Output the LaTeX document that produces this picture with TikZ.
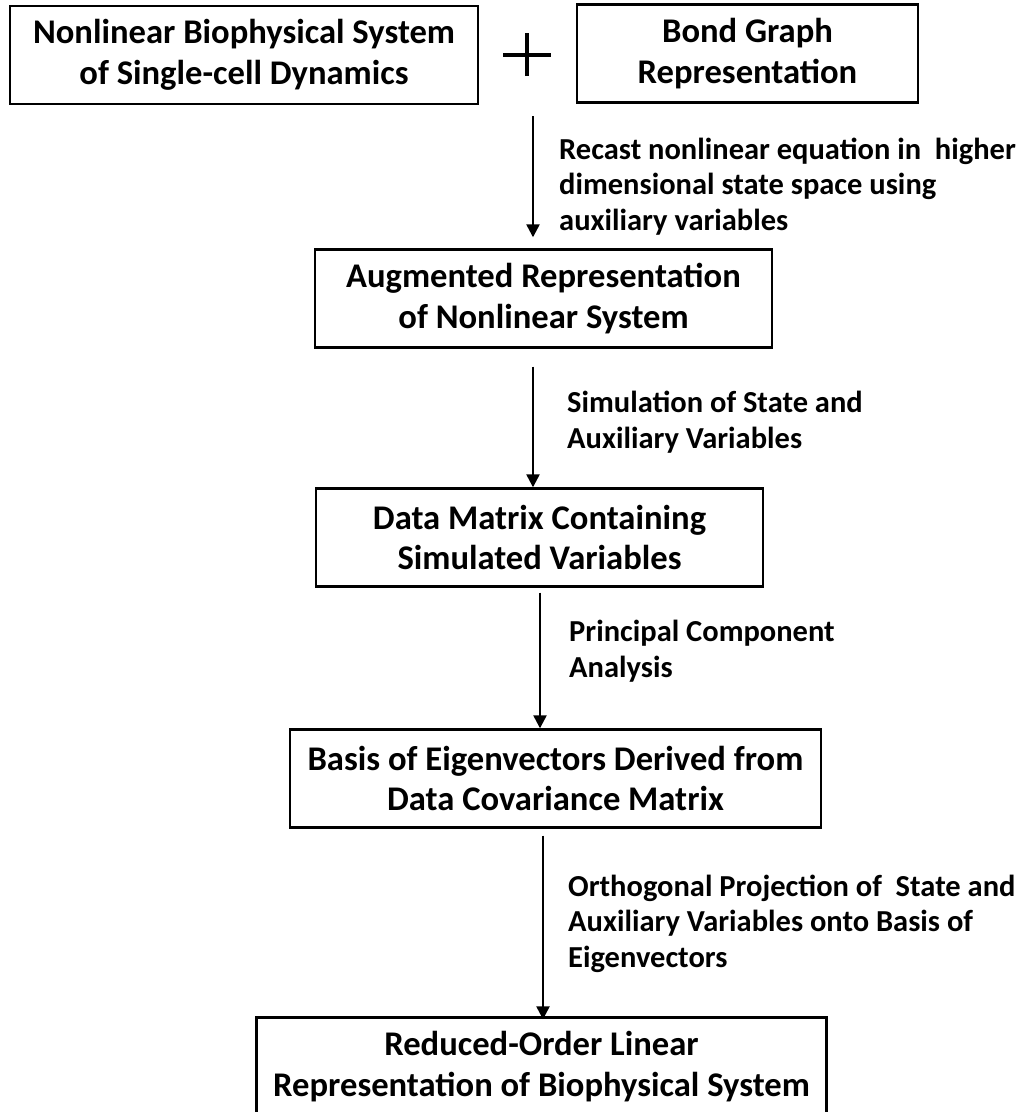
\documentclass[tikz,border=0pt]{standalone}
\usepackage{fontspec}
\setmainfont{Carlito}
\usetikzlibrary{arrows.meta}

\begin{document}
\begin{tikzpicture}[x=1pt,y=-1pt,
  box/.style={draw, line width=2.4, inner sep=0, align=center,
    minimum height=98, font=\bfseries\fontsize{34.6}{40.5}\selectfont},
  note/.style={anchor=base west, inner sep=0, align=left,
    font=\bfseries\fontsize{30.5}{35.5}\selectfont},
  flow/.style={line width=2.4, -{Triangle[length=13,width=13]}}]
\useasboundingbox (0,0) rectangle (1018,1112);

% Boxes
\node[box, minimum width=468] (nonlin) at (244,55) {Nonlinear Biophysical System\\of Single-cell Dynamics};
\node[box, minimum width=341] (bond) at (747.5,53.5) {Bond Graph\\Representation};
\node[box, minimum width=457] (aug) at (543.5,298.5) {Augmented Representation\\of Nonlinear System};
\node[box, minimum width=447] (data) at (539.5,537.5) {Data Matrix Containing\\Simulated Variables};
\node[box, minimum width=531] (basis) at (555.5,778.5) {Basis of Eigenvectors Derived from\\Data Covariance Matrix};
\node[box, minimum width=570] (reduced) at (541.5,1066.5) {Reduced-Order Linear\\Representation of Biophysical System};

% plus sign
\coordinate (plus) at (527,54.5);
\draw[line width=4] ([xshift=-24]plus) -- ([xshift=24]plus);
\draw[line width=4] ([yshift=-21.5]plus) -- ([yshift=21.5]plus);

% Arrows
\coordinate (split) at (533,116);
\draw[flow, shorten >=11] (split) -- (split |- aug.north);
\draw[flow, shorten <=18] ([xshift=-10.5]aug.south) -- ([xshift=-10.5]aug.south |- data.north);
\draw[flow, shorten <=5] ([xshift=0.5]data.south) -- ([xshift=0.5]data.south |- basis.north);
\draw[flow, shorten <=7, shorten >=-3] ([xshift=-12.5]basis.south) -- ([xshift=-12.5]basis.south |- reduced.north);

% Text Node (placed at baseline of last line)
\node[note] (recast) at (559,230) {Recast nonlinear equation in~ higher\\dimensional state space using\\auxiliary variables};
\node[note] (simul) at (567,448) {Simulation of State and\\Auxiliary Variables};
\node[note] (pca) at (569,677) {Principal Component\\Analysis};
\node[note] (proj) at (568,967) {Orthogonal Projection of~ State and\\Auxiliary Variables onto Basis of\\Eigenvectors};

\end{tikzpicture}
\end{document}
